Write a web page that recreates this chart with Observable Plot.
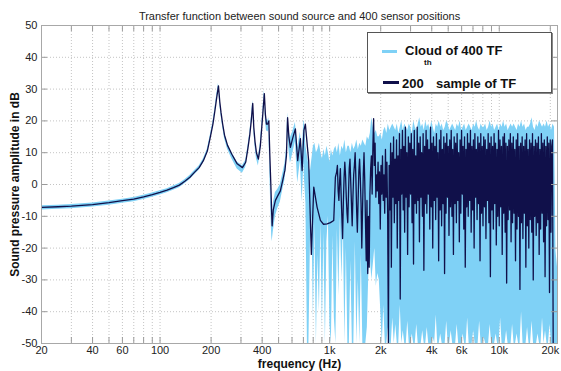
<!DOCTYPE html>
<html><head><meta charset="utf-8">
<script src="https://cdn.jsdelivr.net/npm/d3@7"></script>
<script src="https://cdn.jsdelivr.net/npm/@observablehq/plot@0.6"></script>
<style>
html,body{margin:0;padding:0;background:#fff}
#wrap{position:relative;width:561px;height:371px;overflow:hidden;font-family:'Liberation Sans',Arial,Helvetica,sans-serif}
#legend{position:absolute;left:367px;top:32px;width:183px;height:59px;border:1px solid #555;box-shadow:1px 1px 0 #888;background:#fff;font-weight:bold;color:#111}
#legend .sw{position:absolute;height:3px}
#legend span{position:absolute;white-space:nowrap}
</style></head><body>
<div id="wrap"><div id="chart"></div><div id="legend"></div></div>
<script>
// ---------- texts ----------
const titleText = "Transfer function between sound source and 400 sensor positions";
const xLabel = "frequency (Hz)";
const yLabel = "Sound pressure amplitude in dB";
const legendCloudLabel = "Cloud of 400 TF";
const legendSampleParts = ["200", "th", "sample of TF"];

// ---------- axes ----------
const xTickValues = [20, 40, 60, 100, 200, 400, 1000, 2000, 4000, 6000, 10000, 20000];
const xTickLabels = ["20", "40", "60", "100", "200", "400", "1k", "2k", "4k", "6k", "10k", "20k"];
const xGridValues = [30, 40, 50, 60, 70, 80, 90, 100, 200, 300, 400, 500, 600, 700, 800, 900,
  1000, 2000, 3000, 4000, 5000, 6000, 7000, 8000, 9000, 10000, 20000];
const yTickValues = [-50, -40, -30, -20, -10, 0, 10, 20, 30, 40, 50];

// ---------- 200th sample, smooth part (Hz, dB) ----------
const smoothFreq = [20, 25, 30, 40, 50, 60, 70, 80, 90, 100,
  110, 120, 130, 140, 150, 160, 170, 180, 190, 198,
  205, 211, 216, 221, 225, 229, 234, 240, 250, 265,
  285, 306, 320, 330, 338, 345, 352, 357, 363, 370,
  380, 390, 398, 404, 412, 418, 424, 431, 438, 444,
  450, 455, 458, 465, 479, 495, 512, 530, 545, 556,
  565, 575, 587, 605, 628, 648, 672, 688, 705];
const smoothDb = [-7.2, -7.0, -6.8, -6.3, -5.7, -5.1, -4.6, -3.9, -3.2, -2.5,
  -1.8, -1.0, -0.2, 1.0, 2.3, 3.9, 5.3, 7.5, 10.5, 15,
  19, 23.5, 27.5, 31, 26, 22.5, 19, 15.5, 12.3, 9.5,
  6.5, 5.3, 7, 11.5, 15.5, 20, 25.5, 18, 13.5, 10,
  8, 12, 18, 22.5, 28.6, 22, 19, 19, 20, 9,
  0, -9, -13, -8, -5, -3.5, -2, 1.5, 4.5, 9,
  21, 15, 11.7, 14.5, 17.5, 7.5, 14.4, 4.4, 17];
// cloud of 400 TF around the smooth part: dB below / above the sample
const cloudBelow = [0.8, 0.8, 0.8, 0.8, 0.8, 0.8, 0.8, 0.8, 0.8, 0.8,
  0.8, 0.8, 0.8, 0.8, 0.8, 0.8, 0.8, 0.8, 0.8, 0.8,
  0.8, 0.8, 0.8, 0.8, 0.8, 0.8, 0.9, 1.0, 1.2, 1.4,
  1.6, 1.8, 1.6, 1.3, 1.0, 1.0, 1.0, 1.2, 1.5, 1.8,
  2.2, 1.8, 1.5, 1.2, 1.0, 1.5, 2.0, 2.5, 3.0, 5,
  8, 7, 5, 7, 5, 4, 3.5, 3, 3, 3,
  2, 4, 5, 5, 4, 7, 7, 10, 10];
const cloudAbove = [0.5, 0.5, 0.5, 0.5, 0.5, 0.5, 0.5, 0.5, 0.5, 0.5,
  0.5, 0.5, 0.5, 0.5, 0.5, 0.5, 0.5, 0.5, 0.6, 0.6,
  0.6, 0.7, 0.8, 0.8, 0.8, 0.6, 0.6, 0.6, 0.6, 0.6,
  0.6, 0.6, 0.6, 0.6, 0.6, 0.8, 1.0, 0.8, 0.6, 0.6,
  0.8, 0.8, 0.8, 1.0, 1.0, 1.0, 1.5, 1.0, 1.0, 1.0,
  1, 1, 1, 2, 2.5, 2, 2, 2, 2, 2,
  1.5, 2, 3, 2, 2, 4, 2, 6, 3];

// ---------- 200th sample, mid part (Hz, dB) ----------
const midFreq = [719, 752, 780, 806, 843, 882, 920, 966, 1010, 1057, 1081];
const midDb = [19, 7.5, -22, -0.8, -7.1, -11.3, -12.5, -12.4, -12, -11.3, 2.3];

// ---------- 200th sample, dense part: log-spaced samples 1.1 kHz .. 20.8 kHz ----------
const darkGridStartHz = 1100, darkGridEndHz = 20800;
const darkGridDb = [
  4, 6, -2, -5, 1, 5, -3, -10, -17, -6,
  2, 7, 3, -4, -9, -12, -3, 5, 8, 1,
  -6, -13, -4, 3, 6, 10, 2, -8, -15, -5,
  4, 8, 2, -6, -20, -8, 3, 10, 1, -12,
  -24, -5, -28, -10, -26, -3, 5, 9, -3, 12,
  20.7, 6, 13, -4, 3, -2, 7, -6, 4, -14,
  6, -3, 9, -5, 3, -9, 11, -4, 7, -10,
  -50, 6, -8, 13, -26, 10, -4, 15, -12, 8,
  -6, 14, -20, 9, -5, 16, -36, 11, -3, 17,
  -8, 12, -15, 18, -4, 10, -22, 15, -7, 13,
  -3, 16, -12, 11, -25, 17, -6, 9, -9, 18,
  -5, 13, -18, 15, -4, 10, -10, 16, -27, 12,
  -6, 17, -9, 14, -3, 11, -14, 18, -7, 13,
  -20, 15, -5, 12, -11, 16, -4, 10, -24, 14,
  -8, 17, -13, 11, -6, 15, -28, 13, -9, 16,
  -4, 12, -16, 14, -7, 17, -10, 11, -22, 15,
  -6, 13, -12, 16, -5, 10, -18, 14, -9, 17,
  -3, 12, -14, 15, -26, 11, -7, 16, -10, 13,
  -5, 17, -15, 12, -8, 14, -20, 16, -4, 11,
  -11, 15, -6, 13, -24, 16, -9, 12, -13, 15,
  -7, 14, -17, 11, -5, 16, -12, 13, -29, 15,
  -8, 12, -14, 16, -6, 13, -19, 11, -10, 17,
  -13, 14, -7, 12, -22, 15, -9, 16, -15, 13,
  -31, 12, -11, 14, -8, 16, -18, 13, -12, 15,
  -9, 11, -24, 14, -14, 16, -10, 12, -33, 13,
  -12, 15, -17, 12, -9, 14, -26, 16, -13, 11,
  -20, 14, -11, 13, -15, 16, -30, 12, -10, 14,
  -16, 13, -12, 15, -22, 11, -14, 16, -9, 13,
  -18, 14, -29, 12, -13, 15, -11, 13, -34, 14,
  -15, 12, 14, -50];

// ---------- cloud envelope, noisy part: log-spaced samples 710 Hz .. 22.05 kHz ----------
const cloudGridStartHz = 710, cloudGridEndHz = 22050;
const cloudGridHi = [
  20, 12, 9, 6, 4, 8, 12, 13, 10, 11,
  13, 10, 8, 11, 9, 12, 10, 7, 11, 9,
  11, 12, 10, 13, 9, 12, 11, 14, 10, 12,
  12, 10, 13, 11, 12, 14, 11, 13, 12, 14,
  13, 12, 15, 14, 16, 21, 18, 16, 17, 15,
  15, 16, 14, 17, 18, 16, 19, 17, 18, 19,
  18, 17, 19, 16, 18, 20, 17, 19, 18, 17,
  19, 18, 16, 20, 18, 17, 19, 21, 18, 19,
  17, 20, 18, 19, 17, 20, 18, 16, 19, 18,
  20, 18, 19, 17, 18, 20, 19, 17, 18, 19,
  18, 17, 19, 18, 20, 17, 18, 19, 17, 18,
  19, 18, 17, 19, 18, 20, 18, 17, 19, 18,
  18, 19, 17, 18, 20, 18, 19, 17, 18, 19,
  17, 19, 18, 20, 18, 19, 17, 18, 19, 18,
  19, 18, 17, 19, 18, 20, 18, 19, 17, 18,
  18, 19, 21, 18, 17, 19, 18, 20, 19, 18,
  19, 18, 20, 18, 19, 17, 19, 18, -21, -26];
const cloudGridLo = [
  2, -6, -50, -50, -18, -10, -42, -12, -50, -22,
  -40, -12, -45, -15, -50, -18, -10, -44, -50, -16,
  -42, -50, -14, -35, -10, -30, -12, -50, -20, -50,
  -50, -24, -50, -50, -18, -50, -30, -50, -22, -50,
  -50, -50, -45, -28, -22, -30, -25, -20, -32, -28,
  -30, -40, -50, -38, -50, -50, -45, -50, -50, -42,
  -50, -44, -50, -50, -38, -50, -46, -50, -50, -43,
  -50, -50, -47, -50, -50, -44, -50, -50, -50, -46,
  -50, -50, -45, -50, -50, -50, -48, -50, -41, -50,
  -50, -47, -50, -50, -50, -43, -50, -50, -46, -50,
  -50, -50, -44, -50, -50, -50, -47, -50, -50, -42,
  -50, -50, -50, -46, -50, -50, -50, -43, -50, -50,
  -48, -50, -50, -50, -44, -50, -50, -50, -47, -50,
  -50, -42, -50, -50, -50, -46, -50, -50, -50, -44,
  -50, -50, -47, -50, -50, -40, -50, -50, -50, -45,
  -50, -50, -43, -50, -50, -50, -47, -50, -50, -42,
  -50, -46, -50, -50, -44, -50, -50, -50, -50, -50];

// ---------- build tables ----------
function logGrid(startHz, endHz, n) {
  const step = Math.log10(endHz / startHz) / (n - 1);
  return d3.range(n).map(i => startHz * Math.pow(10, step * i));
}
const cloud = [];
smoothFreq.forEach((f, i) => cloud.push({f, lo: smoothDb[i] - cloudBelow[i], hi: smoothDb[i] + cloudAbove[i]}));
const cloudN = Math.min(cloudGridHi.length, cloudGridLo.length);
logGrid(cloudGridStartHz, cloudGridEndHz, cloudN).forEach((f, i) => cloud.push({f, lo: cloudGridLo[i], hi: cloudGridHi[i]}));

const sample = [];
smoothFreq.forEach((f, i) => sample.push({f, v: smoothDb[i]}));
midFreq.forEach((f, i) => sample.push({f, v: midDb[i]}));
logGrid(darkGridStartHz, darkGridEndHz, darkGridDb.length).forEach((f, i) => sample.push({f, v: darkGridDb[i]}));

const cloudColor = "#7fd1f6";
const sampleColor = "#10104a";
const axisGray = "#9a9a9a";

const chart = Plot.plot({
  width: 561, height: 371,
  marginTop: 25, marginRight: 4, marginBottom: 28, marginLeft: 41,
  x: {type: "log", domain: [20, 22050], axis: null},
  y: {domain: [-50, 50], axis: null},
  style: {fontFamily: "'Liberation Sans', Arial, Helvetica, sans-serif", fontSize: "11px", background: "#fff", color: "#222", overflow: "visible"},
  marks: [
    Plot.ruleX(xGridValues, {stroke: "#c4c4c4", strokeDasharray: "1,2"}),
    Plot.ruleY(yTickValues.slice(1, -1), {stroke: "#c4c4c4", strokeDasharray: "1,2"}),
    Plot.areaY(cloud, {x: "f", y1: "lo", y2: "hi", fill: cloudColor, clip: true}),
    Plot.line(sample, {x: "f", y: "v", stroke: sampleColor, strokeWidth: 1.3, clip: true}),
    Plot.ruleX(xGridValues, {stroke: axisGray, insetTop: 312}),
    Plot.ruleX(xGridValues, {stroke: axisGray, insetBottom: 312}),
    Plot.ruleY(yTickValues, {stroke: axisGray, insetRight: 510}),
    Plot.ruleY(yTickValues, {stroke: axisGray, insetLeft: 510}),
    Plot.frame({stroke: "#a8a8a8"}),
    Plot.text(xTickValues, {x: d => d, frameAnchor: "bottom", dy: 10, text: (d, i) => xTickLabels[i], fill: "#222"}),
    Plot.text(yTickValues, {y: d => d, frameAnchor: "left", dx: -4, textAnchor: "end", text: d => String(d), fill: "#222"}),
    Plot.text([titleText], {frameAnchor: "top", dy: -13, text: d => d, fontSize: 11, fill: "#222"}),
    Plot.text([xLabel], {frameAnchor: "bottom", dy: 24, text: d => d, fontSize: 12, fontWeight: "bold", fill: "#111"}),
    Plot.text([yLabel], {frameAnchor: "left", dx: -26, rotate: -90, textAnchor: "middle", text: d => d, fontSize: 12, fontWeight: "bold", fill: "#111"})
  ]
});
document.getElementById("chart").appendChild(chart);

// ---------- legend ----------
const lg = document.getElementById("legend");
lg.innerHTML =
  `<div class="sw" style="left:14px;top:17px;width:15px;background:${cloudColor}"></div>` +
  `<span style="left:37px;top:11px;font-size:13px;line-height:13px">${legendCloudLabel}</span>` +
  `<div class="sw" style="left:15px;top:48px;width:16px;background:${sampleColor}"></div>` +
  `<span style="left:34px;top:44px;font-size:13px;line-height:13px">${legendSampleParts[0]}</span>` +
  `<span style="left:56px;top:26px;font-size:8px;line-height:8px">${legendSampleParts[1]}</span>` +
  `<span style="left:68px;top:44px;font-size:13px;line-height:13px">${legendSampleParts[2]}</span>`;
</script></body></html>
